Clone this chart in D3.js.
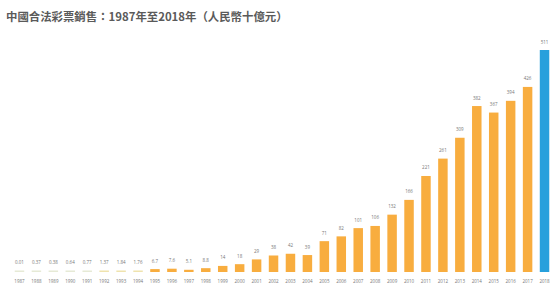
<!DOCTYPE html>
<html>
<head>
<meta charset="utf-8">
<script src="https://cdn.jsdelivr.net/npm/d3@7"></script>
<style>
  html, body { margin: 0; padding: 0; background: #fff; }
  svg { display: block; }
</style>
</head>
<body>
<div id="chart"></div>
<script>
const years = ["1987","1988","1989","1990","1991","1992","1993","1994","1995","1996","1997","1998","1999","2000","2001","2002","2003","2004","2005","2006","2007","2008","2009","2010","2011","2012","2013","2014","2015","2016","2017","2018"];
const sales = [0.01,0.37,0.38,0.64,0.77,1.37,1.84,1.76,6.7,7.6,5.1,8.8,14,18,29,38,42,39,71,82,101,106,132,166,221,261,309,382,367,394,426,511];
const labels = ["0.01","0.37","0.38","0.64","0.77","1.37","1.84","1.76","6.7","7.6","5.1","8.8","14","18","29","38","42","39","71","82","101","106","132","166","221","261","309","382","367","394","426","511"];
const title = "中國合法彩票銷售：1987年至2018年（人民幣十億元）";

const W = 554, H = 291;
const baseY = 272;

const svg = d3.select("#chart").append("svg")
  .attr("width", W).attr("height", H);

svg.append("text")
  .attr("x", 6).attr("y", 20.5)
  .attr("font-family", "'Noto Sans CJK TC', 'Noto Sans', sans-serif")
  .attr("font-size", 11.4)
  .attr("font-weight", "bold")
  .attr("fill", "#5a5a5a")
  .text(title);

const x = d3.scaleBand()
  .domain(years)
  .range([11, 553])
  .paddingInner(0.44)
  .paddingOuter(0.22);

const y = d3.scaleLinear()
  .domain([0, 511])
  .range([baseY, 50]);

// colour by position: tiny early values pale, last year highlighted
function barColor(i) {
  if (i === years.length - 1) return "#27a0dc";
  if (i < 5) return "#e6ead6";
  if (i < 8) return "#efe3ae";
  return "#f8ad3f";
}

const g = svg.append("g");

g.selectAll("rect")
  .data(sales)
  .join("rect")
  .attr("x", (d, i) => x(years[i]))
  .attr("width", x.bandwidth())
  .attr("y", d => Math.min(y(d), baseY - 1.5))
  .attr("height", d => Math.max(baseY - y(d), 1.5))
  .attr("fill", (d, i) => barColor(i));

g.selectAll("text.val")
  .data(sales)
  .join("text")
  .attr("class", "val")
  .attr("x", (d, i) => x(years[i]) + x.bandwidth() / 2)
  .attr("y", d => Math.min(y(d), baseY - 1.5) - 6.5)
  .attr("text-anchor", "middle")
  .attr("font-family", "'Open Sans', sans-serif")
  .attr("font-size", 4.5)
  .attr("fill", "#777")
  .text((d, i) => labels[i]);

const xAxis = d3.axisBottom(x).tickSize(0).tickPadding(0);
const ax = svg.append("g")
  .attr("transform", "translate(0," + (baseY + 11) + ")")
  .call(xAxis);
ax.select(".domain").remove();
ax.selectAll("text")
  .attr("dy", 0)
  .attr("font-family", "'Open Sans', sans-serif")
  .attr("font-size", 4.5)
  .attr("fill", "#777");
</script>
</body>
</html>
